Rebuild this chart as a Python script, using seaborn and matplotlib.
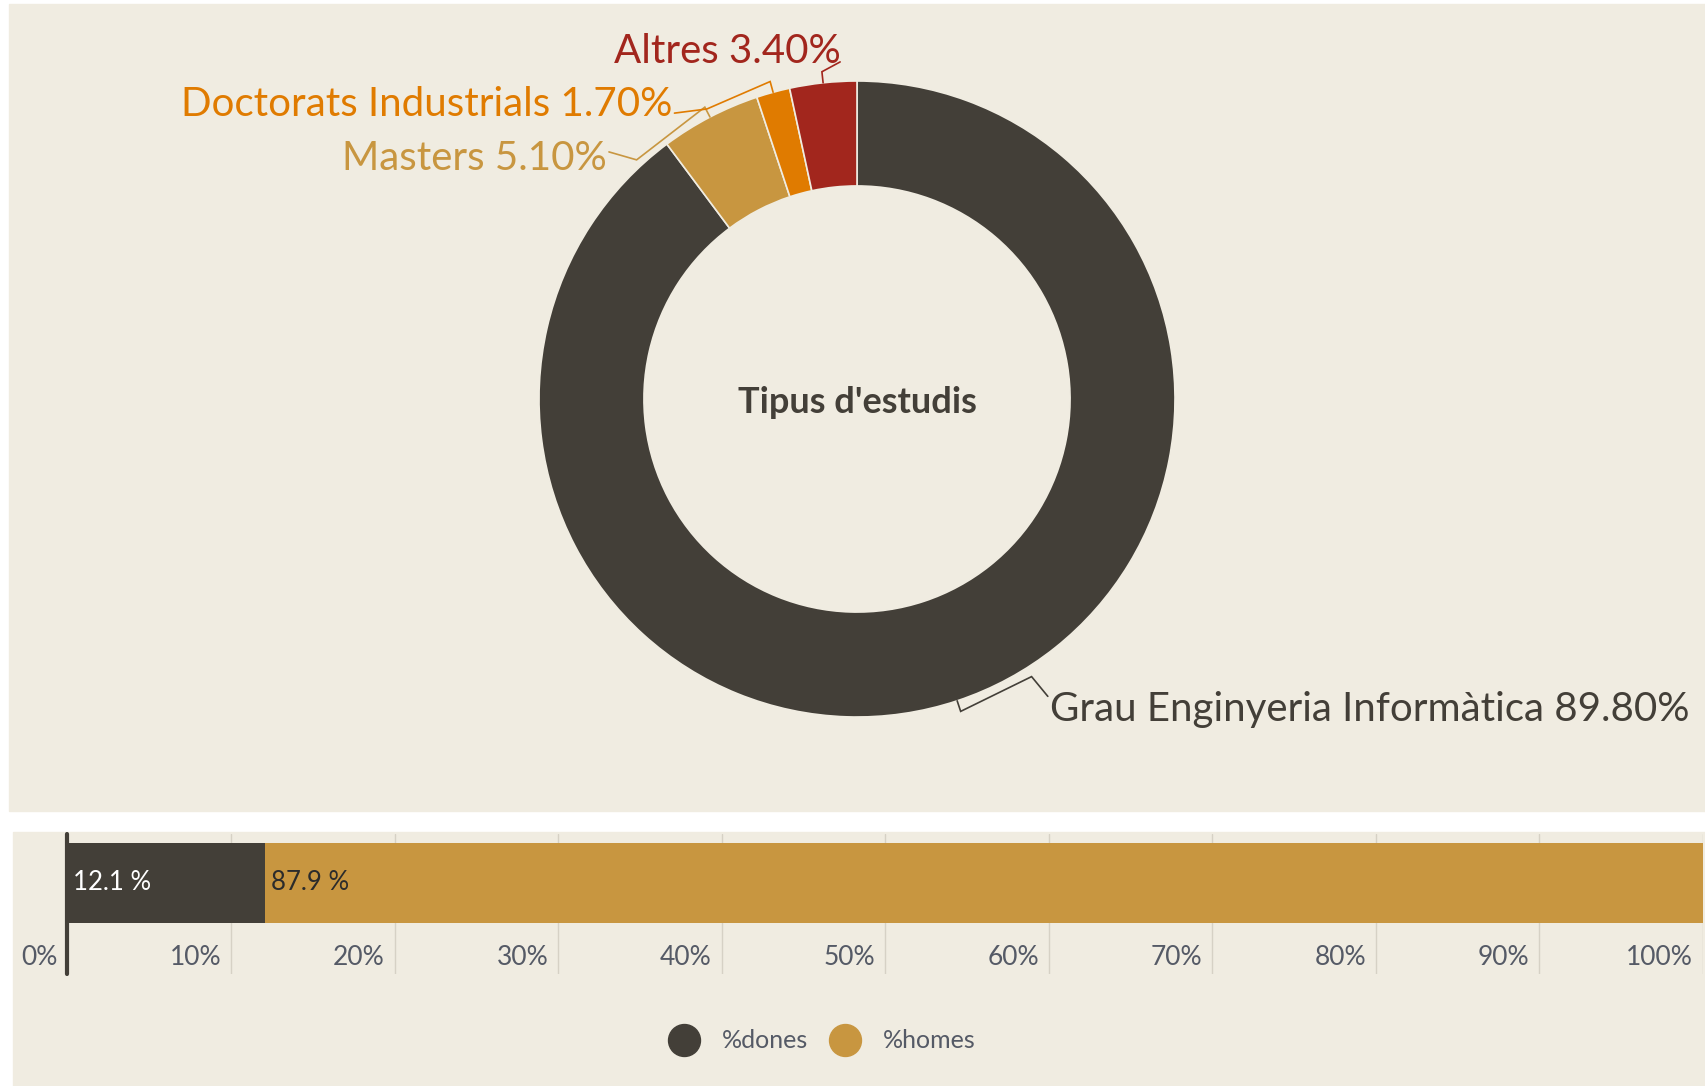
import numpy as np
import pandas as pd
import seaborn as sns
import matplotlib.pyplot as plt
import matplotlib.transforms as mtransforms
from matplotlib.patches import Rectangle
from matplotlib.lines import Line2D

# ------------------------------------------
# Dades
# ------------------------------------------
estudis = ['Grau Enginyeria Informàtica', 'Masters', 'Doctorats Industrials', 'Altres']
estudis_pct = [89.8, 5.1, 1.7, 3.4]
estudis_colors = ['#433f38', '#c89640', '#e07b00', '#a2261d']

genere = ['%dones', '%homes']
genere_pct = [12.1, 87.9]
genere_colors = ['#433f38', '#c89640']

eix_ticks = [0, 10, 20, 30, 40, 50, 60, 70, 80, 90, 100]

titol_centre = "Tipus d'estudis"

# ------------------------------------------
# Figura i fons
# ------------------------------------------
W, H = 1706, 1086
sns.set_theme(style='white')
plt.rcParams['font.family'] = ['Lato', 'DejaVu Sans']

bg = '#f0ece1'
dark = '#433f38'

fig = plt.figure(figsize=(W / 100, H / 100), dpi=100)
fig.patch.set_facecolor('white')


def fx(px):
    return px / W


def fy(py):
    return 1 - py / H


fig.add_artist(Rectangle((fx(9), fy(811)), fx(1706) - fx(9), fy(4) - fy(811),
                         transform=fig.transFigure, color=bg, zorder=0))
fig.add_artist(Rectangle((fx(13), fy(1086)), fx(1706) - fx(13), fy(832) - fy(1086),
                         transform=fig.transFigure, color=bg, zorder=0))

# ------------------------------------------
# Donut
# ------------------------------------------
cx, cy, R = 857, 399, 318
ax = fig.add_axes([fx(9), fy(811), fx(1706) - fx(9), fy(4) - fy(811)])
ax.pie(estudis_pct, colors=estudis_colors, startangle=90, counterclock=False,
       radius=1, wedgeprops=dict(width=0.33, edgecolor=bg, linewidth=1.2))
ax.set_aspect('auto')
ax.set_xlim((9 - cx) / R, (1706 - cx) / R)
ax.set_ylim((cy - 811) / R, (cy - 4) / R)
ax.patch.set_alpha(0)

ax.text(0, -0.01, titol_centre, ha='center', va='center', fontsize=26,
        fontweight='bold', color=dark)

# punt d'ancoratge de cada porció
cum = np.cumsum(estudis_pct)
mid = (cum - np.array(estudis_pct) / 2) / 100 * 2 * np.pi
anchors = np.column_stack([np.sin(mid), np.cos(mid)])

# text i colzes de les línies guia
etiquetes = {
    'Grau Enginyeria Informàtica': dict(xy=(0.607, -0.976), ha='left',
                                        path=[(0.549, -0.873), (0.600, -0.935)]),
    'Masters': dict(xy=(-0.786, 0.755), ha='right',
                    path=[(-0.693, 0.752), (-0.780, 0.777)]),
    'Doctorats Industrials': dict(xy=(-0.582, 0.927), ha='right',
                                  path=[(-0.472, 0.912), (-0.574, 0.899)]),
    'Altres': dict(xy=(-0.050, 1.094), ha='right',
                   path=[(-0.053, 1.060)]),
}

for i, nom in enumerate(estudis):
    e = etiquetes[nom]
    a = anchors[i]
    pts = [a, a * 1.035] + list(e['path'])
    pts = np.array(pts)
    ax.plot(pts[:, 0], pts[:, 1], color=estudis_colors[i], lw=1.2,
            solid_joinstyle='miter', clip_on=False)
    ax.text(e['xy'][0], e['xy'][1], f'{nom} {estudis_pct[i]:.2f}%',
            ha=e['ha'], va='center', fontsize=29, color=estudis_colors[i])

# ------------------------------------------
# Barra apilada
# ------------------------------------------
bx0, bx1, by0, by1 = 67.5, 1703, 834, 974
axb = fig.add_axes([fx(bx0), fy(by1), fx(bx1) - fx(bx0), fy(by0) - fy(by1)])
axb.patch.set_alpha(0)

df = pd.DataFrame({'genere': genere, 'pct': genere_pct, 'grup': [''] * len(genere)})
df['acum'] = df['pct'].cumsum()
df['inici'] = df['acum'] - df['pct']

for k in reversed(range(len(df))):
    sns.barplot(data=df.iloc[[k]], x='acum', y='grup', color=genere_colors[k],
                saturation=1, width=0.8, orient='h', ax=axb, zorder=2,
                edgecolor='none')

axb.set_xlim(0, 100)
axb.set_ylim(0.917, -0.49)
for t in eix_ticks[1:]:
    axb.axvline(t, color='#d6d1c5', lw=1, zorder=0)
axb.axvline(0, color=dark, lw=3, zorder=4, clip_on=False)
for s in axb.spines.values():
    s.set_visible(False)
axb.set_xticks([])
axb.set_yticks([])
axb.set_xlabel('')
axb.set_ylabel('')

off_l = mtransforms.offset_copy(axb.transData, fig, x=-10, units='dots')
for t in eix_ticks:
    axb.text(t, 0.752, f'{t}%', ha='right', va='center', fontsize=19,
             color='#555a66', transform=off_l)

off_r = mtransforms.offset_copy(axb.transData, fig, x=6, units='dots')
txt_colors = ['white', '#2b2b2b']
for k, row in df.iterrows():
    axb.text(row['inici'], 0, f"{row['pct']:.1f} %", ha='left', va='center',
             fontsize=18.5, color=txt_colors[k], transform=off_r, zorder=5)

# ------------------------------------------
# Llegenda
# ------------------------------------------
handles = [Line2D([], [], marker='o', ls='', markersize=23,
                  markerfacecolor=c, markeredgecolor=c) for c in genere_colors]
fig.legend(handles=handles, labels=genere, loc='center',
           bbox_to_anchor=(fx(822), fy(1041)), ncol=2, frameon=False,
           fontsize=18, handlelength=1.3, handletextpad=0.87,
           columnspacing=0.83, labelcolor='#555a66')

fig.savefig('out.png', dpi=100, facecolor='white')
